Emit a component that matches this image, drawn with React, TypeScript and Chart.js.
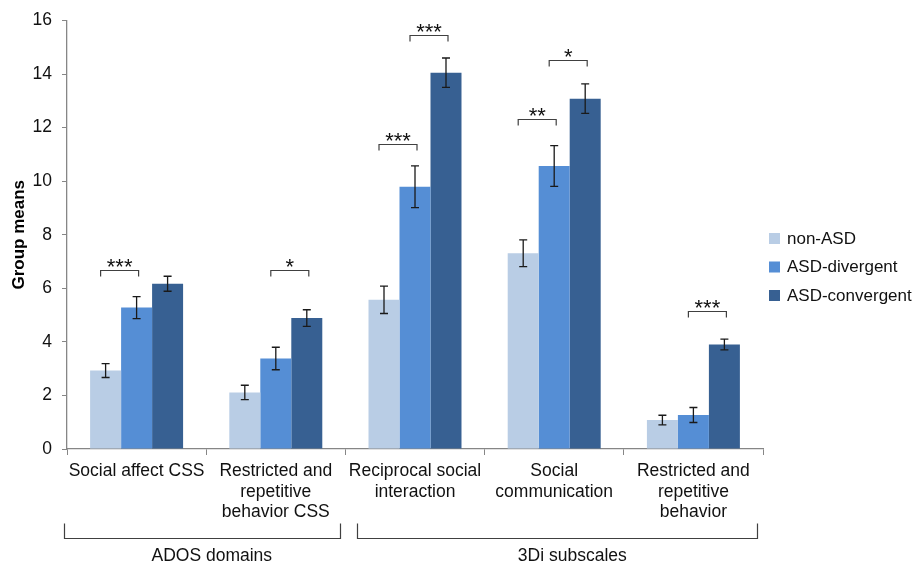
import React, { useEffect, useRef } from "react";
import { Chart, registerables } from "chart.js";

Chart.register(...registerables);

const categories: string[][] = [
  ["Social affect CSS"],
  ["Restricted and", "repetitive", "behavior CSS"],
  ["Reciprocal social", "interaction"],
  ["Social", "communication"],
  ["Restricted and", "repetitive", "behavior"],
];
const seriesNames = ["non-ASD", "ASD-divergent", "ASD-convergent"];
const nonASD = [2.93, 2.11, 5.57, 7.31, 1.08];
const asdDivergent = [5.28, 3.38, 9.79, 10.57, 1.27];
const asdConvergent = [6.17, 4.89, 14.05, 13.08, 3.9];
const nonASDErr = [0.26, 0.27, 0.51, 0.5, 0.18];
const asdDivergentErr = [0.41, 0.42, 0.78, 0.76, 0.28];
const asdConvergentErr = [0.28, 0.31, 0.55, 0.55, 0.2];
const yMin = 0;
const yMax = 16;
const yStep = 2;
const yTitle = "Group means";

// significance brackets
const sigCategory = [0, 1, 2, 2, 3, 3, 4];
const sigFrom = [0, 1, 0, 1, 0, 1, 1];
const sigTo = [1, 2, 1, 2, 1, 2, 2];
const sigLevel = [6.69, 6.69, 11.39, 15.46, 12.34, 14.51, 5.17];
const sigLabel = ["***", "*", "***", "***", "**", "*", "***"];

// category groups
const groupNames = ["ADOS domains", "3Di subscales"];
const groupStart = [-0.52, 1.58];
const groupEnd = [1.46, 4.46];
const groupLabelAt = [0.54, 3.13];

const colors = ["#B9CDE5", "#558ED5", "#376092"];
const FONT = "'Liberation Sans', Arial, sans-serif";

export default function App() {
  const ref = useRef<HTMLCanvasElement | null>(null);

  useEffect(() => {
    if (!ref.current) return;
    const values = [nonASD, asdDivergent, asdConvergent];
    const errs = [nonASDErr, asdDivergentErr, asdConvergentErr];

    const overlay = {
      id: "overlay",
      afterDatasetsDraw(chart: any) {
        const ctx = chart.ctx;
        const y = chart.scales.y;
        ctx.save();
        // error bars
        ctx.strokeStyle = "#1a1a1a";
        ctx.lineWidth = 1.3;
        values.forEach((vals, d) => {
          const meta = chart.getDatasetMeta(d);
          vals.forEach((v, i) => {
            const bx = meta.data[i].x;
            const top = y.getPixelForValue(v + errs[d][i]);
            const bot = y.getPixelForValue(v - errs[d][i]);
            ctx.beginPath();
            ctx.moveTo(bx, top);
            ctx.lineTo(bx, bot);
            ctx.moveTo(bx - 4, top);
            ctx.lineTo(bx + 4, top);
            ctx.moveTo(bx - 4, bot);
            ctx.lineTo(bx + 4, bot);
            ctx.stroke();
          });
        });
        // significance brackets
        ctx.strokeStyle = "#404040";
        ctx.lineWidth = 1.2;
        ctx.fillStyle = "#111";
        ctx.font = `22px ${FONT}`;
        ctx.textAlign = "center";
        ctx.textBaseline = "alphabetic";
        sigCategory.forEach((c, k) => {
          const x1 = chart.getDatasetMeta(sigFrom[k]).data[c].x - 5;
          const x2 = chart.getDatasetMeta(sigTo[k]).data[c].x + 2;
          const yy = Math.round(y.getPixelForValue(sigLevel[k])) + 0.5;
          ctx.beginPath();
          ctx.moveTo(x1, yy + 6);
          ctx.lineTo(x1, yy);
          ctx.lineTo(x2, yy);
          ctx.lineTo(x2, yy + 6);
          ctx.stroke();
          ctx.fillText(sigLabel[k], (x1 + x2) / 2, yy + 3);
        });
        ctx.restore();
      },
      afterDraw(chart: any) {
        const ctx = chart.ctx;
        const x = chart.scales.x;
        const area = chart.chartArea;
        ctx.save();
        // y title
        ctx.fillStyle = "#000";
        ctx.font = `bold 17px ${FONT}`;
        ctx.textAlign = "center";
        ctx.textBaseline = "middle";
        ctx.translate(19, (area.top + area.bottom) / 2);
        ctx.rotate(-Math.PI / 2);
        ctx.fillText(yTitle, 0, 0);
        ctx.restore();

        // group brackets
        ctx.save();
        ctx.strokeStyle = "#404040";
        ctx.lineWidth = 1.2;
        ctx.fillStyle = "#111";
        ctx.font = `17.5px ${FONT}`;
        ctx.textAlign = "center";
        ctx.textBaseline = "middle";
        groupNames.forEach((g, k) => {
          const x1 = Math.round(x.getPixelForValue(groupStart[k])) + 0.5;
          const x2 = Math.round(x.getPixelForValue(groupEnd[k])) + 0.5;
          const yb = 538.5;
          ctx.beginPath();
          ctx.moveTo(x1, yb - 15);
          ctx.lineTo(x1, yb);
          ctx.lineTo(x2, yb);
          ctx.lineTo(x2, yb - 15);
          ctx.stroke();
          ctx.fillText(g, x.getPixelForValue(groupLabelAt[k]), 556);
        });

        // legend
        ctx.textAlign = "left";
        ctx.font = `17px ${FONT}`;
        seriesNames.forEach((n, k) => {
          const ly = 238 + k * 28.5;
          ctx.fillStyle = colors[k];
          ctx.fillRect(769, ly - 5, 11, 11);
          ctx.fillStyle = "#111";
          ctx.fillText(n, 787, ly + 1);
        });
        ctx.restore();
      },
    };

    const chart = new Chart(ref.current, {
      type: "bar",
      data: {
        labels: categories,
        datasets: seriesNames.map((n, k) => ({
          label: n,
          data: values[k],
          backgroundColor: colors[k],
          borderWidth: 0,
          categoryPercentage: 0.668,
          barPercentage: 1,
        })),
      },
      options: {
        animation: false,
        responsive: true,
        maintainAspectRatio: false,
        devicePixelRatio: 1,
        layout: { padding: { top: 20, right: 156, left: 0, bottom: 0 } },
        plugins: { legend: { display: false }, tooltip: { enabled: false } },
        scales: {
          x: {
            grid: {
              display: true,
              drawOnChartArea: false,
              drawTicks: true,
              tickLength: 6,
              color: "#868686",
              offset: true,
            },
            border: { display: true, color: "#868686", width: 1.3 },
            ticks: {
              autoSkip: false,
              maxRotation: 0,
              minRotation: 0,
              padding: 6,
              color: "#111",
              font: { family: FONT, size: 17.5, lineHeight: 1.17 },
            },
            afterFit(scale: any) {
              scale.height = 116;
            },
          },
          y: {
            min: yMin,
            max: yMax,
            ticks: {
              stepSize: yStep,
              padding: 10,
              color: "#111",
              font: { family: FONT, size: 17.5 },
            },
            grid: {
              display: true,
              drawOnChartArea: false,
              drawTicks: true,
              tickLength: 5,
              color: "#868686",
            },
            border: { display: true, color: "#868686", width: 1.3 },
            afterFit(scale: any) {
              scale.width = 67;
            },
          },
        },
      },
      plugins: [overlay],
    });
    return () => chart.destroy();
  }, []);

  return (
    <div style={{ position: "absolute", left: 0, top: 0, width: 919, height: 565, background: "#fff" }}>
      <canvas ref={ref} />
    </div>
  );
}
